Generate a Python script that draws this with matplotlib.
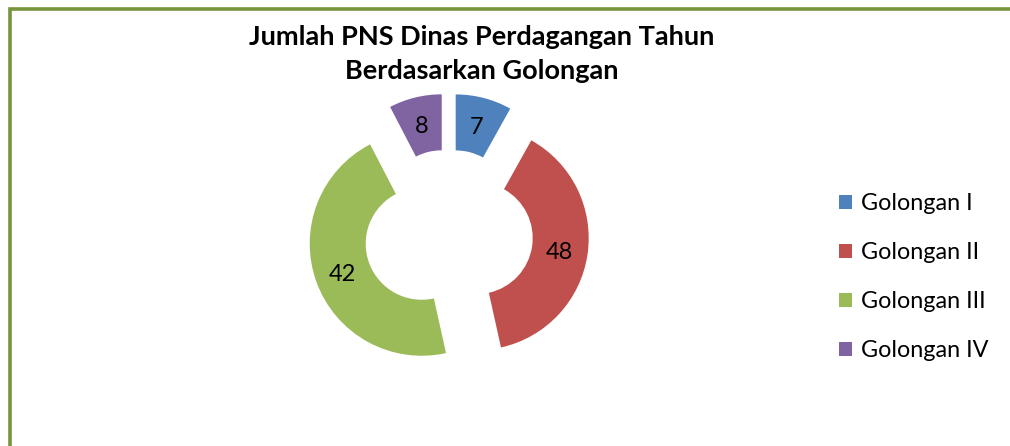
import matplotlib.pyplot as plt
from matplotlib.patches import Rectangle

# data
categories = ['Golongan I', 'Golongan II', 'Golongan III', 'Golongan IV']
label_values = [7, 48, 42, 8]              # numbers printed on the slices
slice_sizes = [8.5, 40.3, 48.1, 8.0]       # slice sizes as drawn in the picture
colors = ['#4F81BD', '#C0504D', '#9BBB59', '#8064A2']
title = 'Jumlah PNS Dinas Perdagangan Tahun\nBerdasarkan Golongan'

plt.rcParams['font.family'] = ['Lato', 'DejaVu Sans']

W, H = 1010, 446
fig = plt.figure(figsize=(W / 100, H / 100), dpi=100)
ax = fig.add_axes([0, 0, 1, 1])

# donut, exploded (explode is in data units here)
R = 112
wedges, texts = ax.pie(
    slice_sizes,
    labels=[str(v) for v in label_values],
    colors=colors,
    startangle=90,
    counterclock=False,
    explode=[28.5] * 4,
    radius=R,
    center=(448.5, H - 234),
    labeldistance=0.75,
    wedgeprops=dict(width=56, linewidth=0),
    textprops=dict(ha='center', va='center_baseline', fontsize=17,
                   color='black'),
    frame=True,
)
ax.set_xlim(0, W)
ax.set_ylim(0, H)
ax.set_aspect('equal')
ax.axis('off')

# title
ax.text(482, H - 54, title, ha='center', va='center', fontsize=19.5,
        fontweight='bold', linespacing=1.5)

# legend
leg = ax.legend(wedges, categories, loc='center left',
                bbox_to_anchor=(839 / W, 1 - 277 / H), frameon=False,
                fontsize=16.8, handlelength=0.55, handleheight=0.55,
                handletextpad=0.4, labelspacing=1.2, borderpad=0,
                borderaxespad=0)

# green border (top and left)
fig.patches.append(Rectangle((9.5 / W, -0.1), 1.2, (H - 8.5) / H + 0.1,
                             transform=fig.transFigure, fill=False,
                             edgecolor='#77933C', linewidth=2.6))

plt.savefig('out.png', dpi=100)
